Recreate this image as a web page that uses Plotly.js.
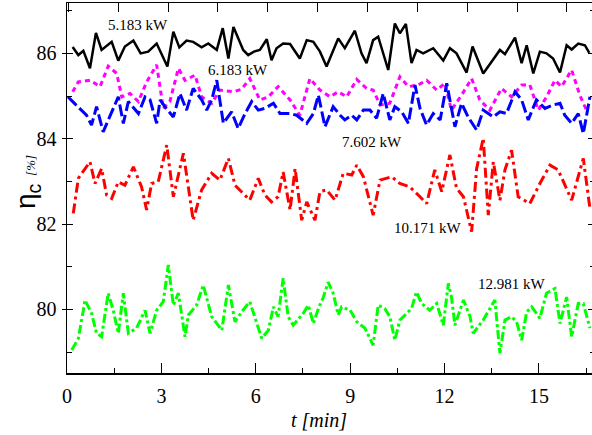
<!DOCTYPE html>
<html>
<head>
<meta charset="utf-8">
<script src="https://cdn.plot.ly/plotly-3.0.1.min.js"></script>
<style>
html,body{margin:0;padding:0;overflow:hidden;background:#fff;}
#chart{width:597px;height:435px;}
</style>
</head>
<body>
<div id="chart"></div>
<script>
// Series data: [time (min), efficiency (%)]
const labels = ["5.183 kW", "6.183 kW", "7.602 kW", "10.171 kW", "12.981 kW"];
const labelPos = [[2.26, 86.66], [5.43, 85.61], [9.69, 83.92], [11.47, 81.90], [14.14, 80.60]];

const s5183 = [[0.18,86.15],[0.36,85.96],[0.52,86.06],[0.73,85.65],[0.92,86.48],[1.10,86.08],[1.42,86.27],[1.63,85.83],[1.84,86.16],[2.11,86.30],[2.34,86.0],[2.58,86.04],[2.85,86.23],[3.19,85.69],[3.38,86.51],[3.57,86.14],[3.80,86.30],[4.01,86.27],[4.28,86.14],[4.49,86.23],[4.76,86.08],[4.95,86.59],[5.13,85.88],[5.29,86.62],[5.60,86.08],[5.76,85.96],[5.94,86.04],[6.13,86.08],[6.35,86.33],[6.50,85.84],[6.66,86.12],[6.87,86.23],[7.09,86.22],[7.40,85.88],[7.62,86.31],[7.83,86.27],[8.04,86.04],[8.25,85.69],[8.62,86.35],[8.83,86.12],[9.15,86.53],[9.36,86.0],[9.52,85.77],[9.73,86.31],[9.89,86.39],[10.21,85.61],[10.42,86.70],[10.58,86.47],[10.77,86.69],[10.95,85.77],[11.11,86.08],[11.32,86.0],[11.64,86.12],[11.96,85.83],[12.17,86.12],[12.38,86.0],[12.70,85.55],[12.89,86.16],[13.23,85.53],[13.76,86.08],[13.92,85.98],[14.24,86.37],[14.45,85.77],[14.61,86.19],[14.82,85.53],[15.03,86.04],[15.24,86.0],[15.45,85.88],[15.67,85.55],[15.88,86.19],[16.04,86.09],[16.25,86.23],[16.46,86.19],[16.60,86.01]];

const s6183 = [[0.18,85.10],[0.36,85.33],[0.73,85.37],[1.05,85.22],[1.31,85.70],[1.58,85.53],[1.74,84.98],[2.0,85.06],[2.27,84.87],[2.53,85.33],[2.85,85.73],[3.06,84.71],[3.27,84.87],[3.54,85.65],[3.75,85.37],[4.07,85.49],[4.28,84.98],[4.60,84.83],[4.86,85.14],[5.29,85.10],[5.55,85.16],[5.81,85.41],[6.13,84.91],[6.40,84.98],[6.71,85.22],[7.09,84.91],[7.40,84.55],[7.72,85.41],[8.04,85.14],[8.36,84.98],[8.62,85.10],[8.89,84.98],[9.21,85.39],[9.52,85.18],[9.73,85.14],[9.95,84.79],[10.26,84.83],[10.58,85.45],[10.85,85.22],[11.16,85.26],[11.43,85.37],[11.75,85.14],[12.01,85.30],[12.22,84.67],[12.54,85.02],[12.86,85.41],[13.12,84.91],[13.44,84.67],[13.81,85.18],[14.13,84.98],[14.45,85.26],[14.71,85.26],[14.98,84.67],[15.24,84.98],[15.51,85.37],[15.72,85.22],[16.04,85.61],[16.30,85.02],[16.51,84.67]];

const s7602 = [[0.03,84.98],[0.62,84.55],[0.78,84.32],[0.94,84.75],[1.15,84.16],[1.42,84.63],[1.63,84.98],[1.79,84.36],[1.95,84.87],[2.27,84.59],[2.48,84.98],[2.64,84.91],[2.85,84.36],[2.96,84.91],[3.11,84.75],[3.38,84.51],[3.59,85.06],[3.80,84.67],[4.01,85.18],[4.28,84.91],[4.44,84.67],[4.60,84.91],[4.76,85.37],[4.97,84.36],[5.23,84.63],[5.44,84.24],[5.66,84.59],[5.87,84.87],[6.08,84.67],[6.29,84.71],[6.56,84.83],[6.77,84.59],[7.09,84.59],[7.30,84.55],[7.62,84.36],[7.83,84.59],[7.99,85.02],[8.20,84.28],[8.46,84.75],[8.68,84.55],[8.83,84.44],[9.05,84.55],[9.21,84.44],[9.42,84.67],[9.63,84.67],[9.84,84.48],[10.05,85.06],[10.26,84.44],[10.42,84.75],[10.64,84.63],[10.85,84.36],[11.06,85.26],[11.22,84.71],[11.43,84.32],[11.64,84.59],[11.86,84.44],[12.07,85.30],[12.33,84.28],[12.54,84.83],[12.75,84.51],[13.02,84.20],[13.23,84.67],[13.55,84.51],[13.76,84.63],[13.97,84.59],[14.24,85.10],[14.45,84.91],[14.66,84.44],[14.92,84.91],[15.19,84.71],[15.45,84.79],[15.67,84.83],[15.82,84.55],[16.04,84.36],[16.25,84.59],[16.41,84.12],[16.62,84.98]];

const s10171 = [[0.20,82.25],[0.36,83.07],[0.73,83.46],[0.89,82.95],[1.10,83.30],[1.26,82.68],[1.42,82.60],[1.63,82.99],[1.84,82.91],[2.11,83.34],[2.37,82.87],[2.53,82.33],[2.69,82.95],[2.90,82.99],[3.17,83.85],[3.38,82.64],[3.70,83.66],[4.01,82.09],[4.28,82.80],[4.60,83.19],[4.86,83.03],[5.13,83.54],[5.34,82.91],[5.55,82.76],[5.81,82.56],[6.08,83.07],[6.29,82.68],[6.50,82.52],[6.71,82.64],[6.87,83.22],[7.09,82.33],[7.25,83.30],[7.46,82.09],[7.62,82.52],[7.88,82.09],[8.04,82.76],[8.25,82.80],[8.52,82.56],[8.78,83.19],[9.05,83.15],[9.21,83.38],[9.42,83.11],[9.73,82.21],[9.95,83.03],[10.32,83.11],[10.58,82.95],[10.90,82.87],[11.22,82.64],[11.43,82.48],[11.69,83.27],[11.91,82.76],[12.17,83.62],[12.38,82.84],[12.60,82.64],[12.86,81.82],[13.02,83.30],[13.23,84.01],[13.39,82.21],[13.55,83.46],[13.76,82.56],[13.92,83.27],[14.13,83.73],[14.34,82.64],[14.71,82.48],[15.03,82.95],[15.35,83.38],[15.61,83.27],[16.04,82.56],[16.41,83.54],[16.62,82.37]];

const s12981 = [[0.15,79.05],[0.36,79.32],[0.52,79.98],[0.57,80.22],[0.78,79.91],[0.94,79.44],[1.10,79.36],[1.31,80.38],[1.47,79.98],[1.63,79.44],[1.79,80.38],[1.95,79.44],[2.21,79.56],[2.48,79.98],[2.64,79.44],[2.85,79.98],[3.06,80.18],[3.22,81.04],[3.38,80.10],[3.54,80.38],[3.75,79.36],[3.86,79.87],[4.12,80.10],[4.33,80.57],[4.60,79.83],[4.92,79.51],[5.13,80.57],[5.34,79.71],[5.55,79.94],[5.81,80.18],[6.19,79.32],[6.40,79.51],[6.56,80.06],[6.71,79.83],[6.87,80.73],[7.03,79.83],[7.19,79.63],[7.51,79.91],[7.67,80.10],[7.83,79.67],[7.99,80.02],[8.15,80.29],[8.30,80.64],[8.46,80.38],[8.62,79.87],[8.73,80.06],[9.0,79.98],[9.21,79.71],[9.47,79.56],[9.73,79.16],[9.89,80.10],[10.10,80.02],[10.26,79.83],[10.42,79.28],[10.58,79.75],[10.79,79.91],[10.95,80.02],[11.11,80.41],[11.27,80.14],[11.53,79.98],[11.75,80.14],[11.96,79.63],[12.12,80.61],[12.22,80.29],[12.33,79.63],[12.60,80.22],[12.81,79.83],[12.91,79.44],[13.23,79.75],[13.60,80.22],[13.76,78.97],[13.92,79.75],[14.13,79.83],[14.29,79.71],[14.45,79.28],[14.61,79.94],[14.77,80.06],[15.03,79.79],[15.24,80.38],[15.51,80.49],[15.67,79.67],[15.88,80.29],[16.04,79.36],[16.25,80.14],[16.41,80.14],[16.62,79.56]];

const xTicks = [0, 3, 6, 9, 12, 15];
const yTicks = [80, 82, 84, 86];

const series = [
  {d: s5183,  color: "#000000", dash: "solid",            width: 2.5},
  {d: s6183,  color: "#FF00FF", dash: "5px,4px",          width: 3},
  {d: s7602,  color: "#0000FF", dash: "12px,4px",         width: 3},
  {d: s10171, color: "#FF0000", dash: "10px,4px,3px,4px", width: 3},
  {d: s12981, color: "#00FF00", dash: "9px,3px,3px,3px",  width: 3}
];

const traces = series.map(s => ({
  type: "scatter", mode: "lines",
  x: s.d.map(p => p[0]), y: s.d.map(p => p[1]),
  line: {color: s.color, width: s.width, dash: s.dash},
  showlegend: false, hoverinfo: "skip"
}));
// helper empty traces to activate the overlay axes
traces.push({type:"scatter", mode:"lines", x:[], y:[], xaxis:"x2", yaxis:"y", showlegend:false});
traces.push({type:"scatter", mode:"lines", x:[], y:[], xaxis:"x", yaxis:"y2", showlegend:false});
traces.push({type:"scatter", mode:"lines", x:[], y:[], xaxis:"x", yaxis:"y3", showlegend:false});

const SERIF = "Liberation Serif";
const yRange = [78.51, 87.18];

const annotations = labels.map((t, i) => ({
  text: t, x: labelPos[i][0], y: labelPos[i][1], xref: "x", yref: "y",
  showarrow: false, xanchor: "center", yanchor: "middle",
  font: {family: SERIF, size: 15, color: "#000"}
}));
annotations.push({
  text: "η<sub>c</sub> <span style=\"font-family:Liberation Serif;font-size:13px;font-style:italic\">[%]</span>",
  xref: "paper", yref: "paper", x: 0, y: 0.516, xshift: -40,
  xanchor: "center", yanchor: "middle", textangle: -90, showarrow: false,
  font: {family: "Liberation Sans", size: 28, color: "#000"}
});
annotations.push({
  text: "<i>t [min]</i>", xref: "paper", yref: "paper", x: 0, y: 0, xshift: 252, yshift: -47,
  xanchor: "center", yanchor: "middle", showarrow: false,
  font: {family: SERIF, size: 20, color: "#000"}
});

const layout = {
  width: 597, height: 435,
  margin: {l: 67, r: 3, t: 3, b: 62, pad: 0},
  paper_bgcolor: "#fff", plot_bgcolor: "#fff",
  showlegend: false,
  font: {family: SERIF, size: 18, color: "#000"},
  xaxis: {
    range: [0, 16.75], showgrid: false, zeroline: false,
    showline: true, linecolor: "#000", linewidth: 1.5, mirror: true,
    ticks: "inside", ticklen: 10, tickwidth: 1, tickcolor: "#000",
    tickvals: xTicks, ticktext: xTicks.map(String),
    minor: {dtick: 1.5, tick0: 0, ticks: "inside", ticklen: 5, tickcolor: "#000", tickwidth: 1, showgrid: false},
    tickfont: {family: SERIF, size: 20, color: "#000"}, ticklabelstandoff: 4
  },
  xaxis2: {
    overlaying: "x", side: "top", range: [-0.029, 10.543],
    showgrid: false, zeroline: false, showline: false,
    ticks: "inside", ticklen: 9, tickwidth: 1, tickcolor: "#000",
    dtick: 1, tick0: 0, showticklabels: false
  },
  yaxis: {
    range: yRange, showgrid: false, zeroline: false,
    showline: true, linecolor: "#000", linewidth: 1.5,
    ticks: "outside", ticklen: 4, tickwidth: 1, tickcolor: "#000",
    tickvals: yTicks, ticktext: yTicks.map(String),
    minor: {dtick: 1, tick0: 0, ticks: "inside", ticklen: 5, tickcolor: "#000", tickwidth: 1, showgrid: false},
    tickfont: {family: SERIF, size: 20, color: "#000"}, ticklabelstandoff: 1
  },
  yaxis2: {
    overlaying: "y", side: "right", range: yRange,
    showgrid: false, zeroline: false,
    showline: true, linecolor: "#000", linewidth: 1.5,
    ticks: "inside", ticklen: 6, tickwidth: 1, tickcolor: "#000",
    dtick: 2, tick0: 0, showticklabels: false,
    minor: {dtick: 1, tick0: 0, ticks: "inside", ticklen: 4, tickcolor: "#000", tickwidth: 1, showgrid: false}
  },
  yaxis3: {
    overlaying: "y", side: "left", range: yRange,
    showgrid: false, zeroline: false, showline: false,
    ticks: "inside", ticklen: 6, tickwidth: 1, tickcolor: "#000",
    dtick: 2, tick0: 0, showticklabels: false
  },
  annotations: annotations
};

Plotly.newPlot("chart", traces, layout, {staticPlot: true, displayModeBar: false});
</script>
</body>
</html>
